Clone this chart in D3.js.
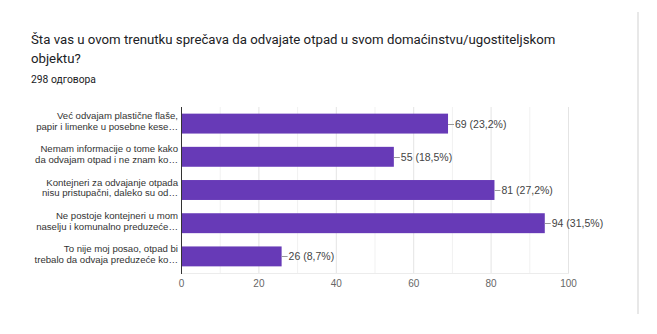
<!DOCTYPE html>
<html><head><meta charset="utf-8">
<script src="https://cdn.jsdelivr.net/npm/d3@7"></script>
<style>body{margin:0;background:#fff}svg{display:block}</style>
</head><body>
<script>
const title1 = "Šta vas u ovom trenutku sprečava da odvajate otpad u svom domaćinstvu/ugostiteljskom";
const title2 = "objektu?";
const subtitle = "298 одговора";
const categories = [
  ["Već odvajam plastične flaše,", "papir i limenke u posebne kese…"],
  ["Nemam informacije o tome kako", "da odvajam otpad i ne znam ko…"],
  ["Kontejneri za odvajanje otpada", "nisu pristupačni, daleko su od…"],
  ["Ne postoje kontejneri u mom", "naselju i komunalno preduzeće…"],
  ["To nije moj posao, otpad bi", "trebalo da odvaja preduzeće ko…"]
];
const values = [69, 55, 81, 94, 26];
const valueLabels = ["69 (23,2%)", "55 (18,5%)", "81 (27,2%)", "94 (31,5%)", "26 (8,7%)"];
const xTicks = [0, 20, 40, 60, 80, 100];
const xGrid = [10, 20, 30, 40, 50, 60, 70, 80, 90, 100];

const W = 657, H = 334;
const svg = d3.select("body").append("svg").attr("width", W).attr("height", H);

// card right edge
svg.append("rect").attr("x", 637).attr("y", 12).attr("width", 2).attr("height", 302).attr("fill", "#e8e8e8");

function fitText(sel, width) {
  const fs = +sel.attr("font-size");
  const w = sel.node().getComputedTextLength();
  sel.attr("font-size", (fs * width / w).toFixed(2));
}
const t1 = svg.append("text").attr("x", 31).attr("y", 44).attr("font-family", "Roboto").attr("font-size", 15)
  .attr("fill", "#202124").text(title1);
fitText(t1, 525);
svg.append("text").attr("x", 31).attr("y", 63).attr("font-family", "Roboto").attr("font-size", t1.attr("font-size"))
  .attr("fill", "#202124").text(title2);
const st = svg.append("text").attr("x", 31).attr("y", 83).attr("font-family", "Roboto").attr("font-size", 11)
  .attr("fill", "#202124").text(subtitle);
fitText(st, 65);

const x = d3.scaleLinear().domain([0, 100]).range([181, 568]);
const y = d3.scaleBand().domain(d3.range(values.length)).range([107, 273]).paddingInner(0.4).paddingOuter(0.2);

const g = svg.append("g");
g.selectAll("line.grid").data(xGrid).join("line").attr("class", "grid")
  .attr("x1", d => x(d) + 0.5).attr("x2", d => x(d) + 0.5).attr("y1", 107).attr("y2", 273)
  .attr("stroke", d => d % 20 === 0 ? "#e4e4e4" : "#f1f1f1").attr("stroke-width", 1);
g.append("line").attr("x1", 181).attr("x2", 569).attr("y1", 273.5).attr("y2", 273.5).attr("stroke", "#ececec");

g.selectAll("rect.bar").data(values).join("rect").attr("class", "bar")
  .attr("x", x(0)).attr("y", (d, i) => y(i)).attr("width", d => x(d) - x(0)).attr("height", y.bandwidth())
  .attr("fill", "#673ab7");

g.append("line").attr("x1", 181.5).attr("x2", 181.5).attr("y1", 107).attr("y2", 274).attr("stroke", "#333");

// leaders and value labels
values.forEach((v, i) => {
  const cy = Math.round(y(i) + y.bandwidth() / 2);
  g.append("line").attr("x1", x(v)).attr("x2", x(v) + 6).attr("y1", cy + 0.5).attr("y2", cy + 0.5).attr("stroke", "#999");
  g.append("text").attr("x", x(v) + 7).attr("y", cy + 4).attr("font-family", "Liberation Sans, Arial")
    .attr("font-size", 10.5).attr("fill", "#444").text(valueLabels[i]);
});

// category labels
categories.forEach((lines, i) => {
  const cy = y(i) + y.bandwidth() / 2;
  lines.forEach((t, k) => {
    g.append("text").attr("x", 178).attr("y", cy + 1 + (k - 0.5) * 10.7 ).attr("text-anchor", "end")
      .attr("font-family", "Liberation Sans, Arial").attr("font-size", 9.6).attr("fill", "#333").text(t);
  });
});

const xAxis = d3.axisBottom(x).tickValues(xTicks).tickSize(0).tickPadding(6);
const ax = svg.append("g").attr("transform", "translate(0,274)").call(xAxis);
ax.select(".domain").remove();
ax.selectAll("text").attr("font-family", "Liberation Sans, Arial").attr("font-size", 10).attr("fill", "#666");
</script>
</body></html>
